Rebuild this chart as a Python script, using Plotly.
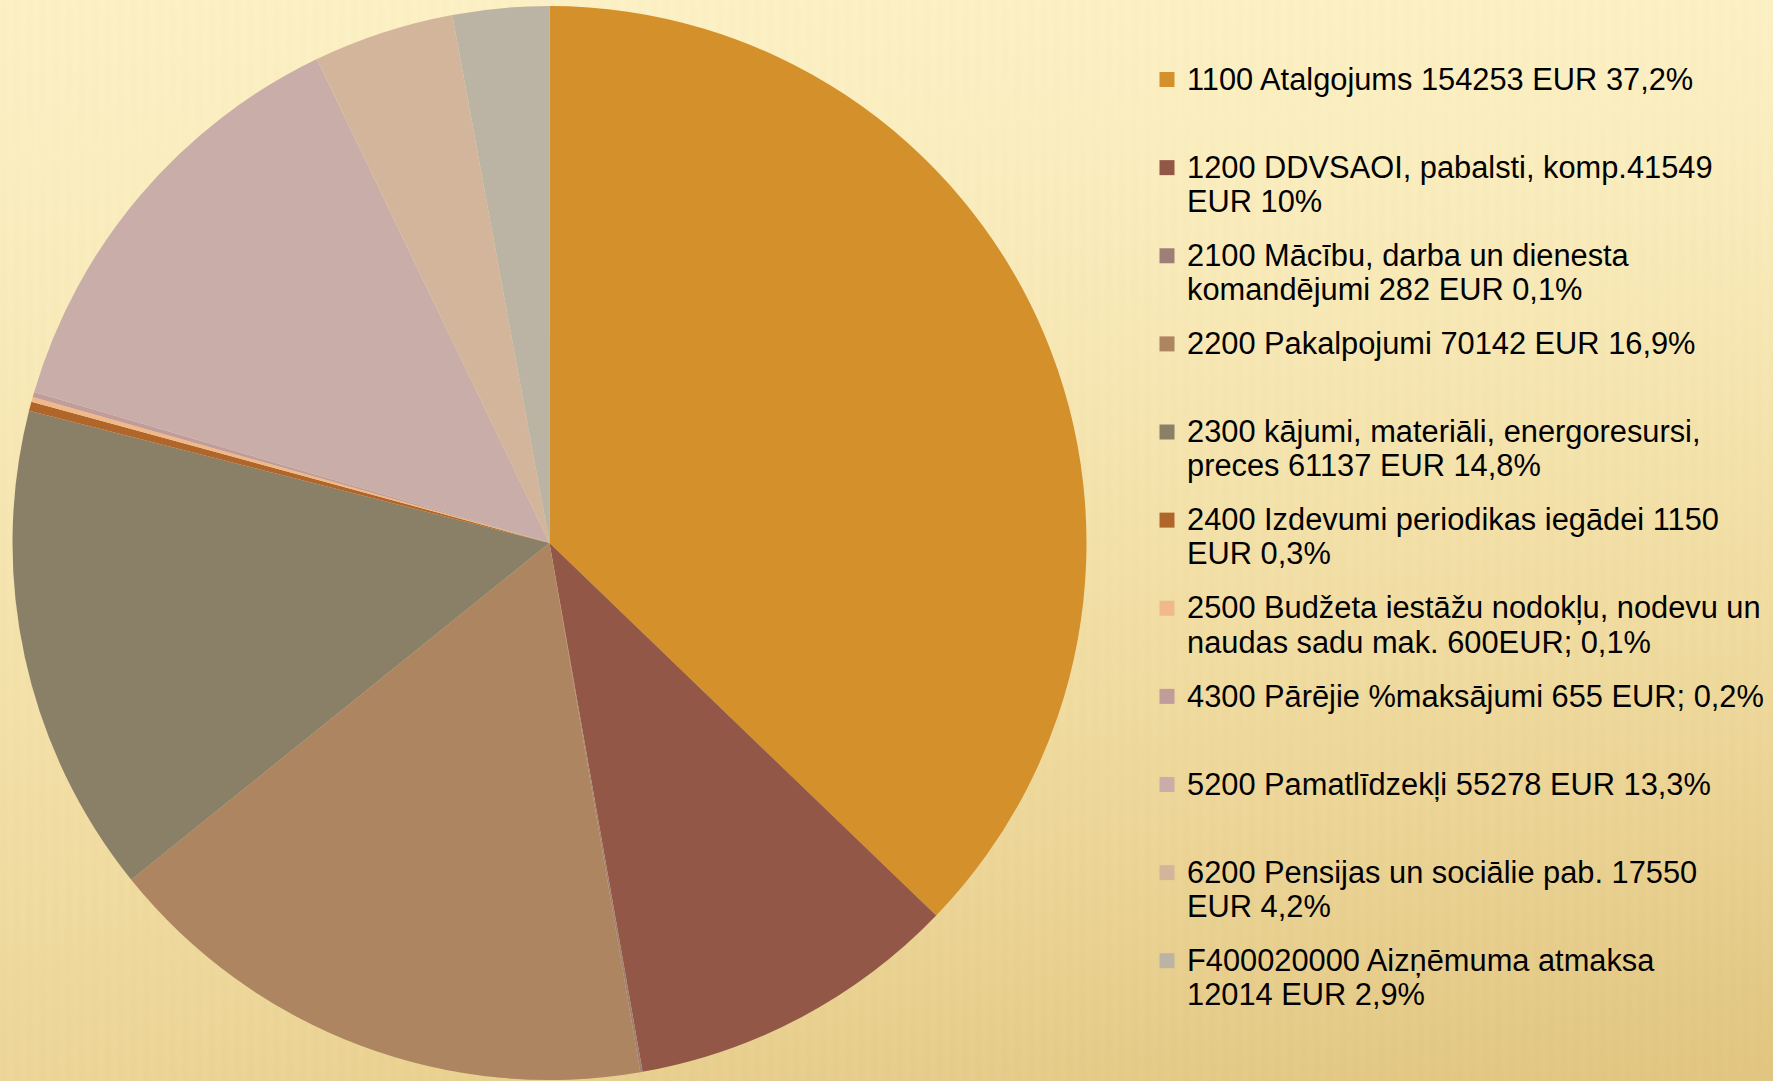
"""Budget pie chart with legend, cream/gold striped backdrop."""
import numpy as np
import plotly.graph_objects as go

W, H = 1773, 1081

codes = ["1100", "1200", "2100", "2200", "2300", "2400", "2500", "4300", "5200", "6200", "F400020000"]
values = [154253, 41549, 282, 70142, 61137, 1150, 600, 655, 55278, 17550, 12014]
label_first = [
    "1100 Atalgojums 154253 EUR 37,2%",
    "1200 DDVSAOI, pabalsti, komp.41549",
    "2100 Mācību, darba un dienesta",
    "2200 Pakalpojumi 70142 EUR 16,9%",
    "2300 kājumi, materiāli, energoresursi,",
    "2400 Izdevumi periodikas iegādei 1150",
    "2500 Budžeta iestāžu nodokļu, nodevu un",
    "4300 Pārējie %maksājumi 655 EUR; 0,2%",
    "5200 Pamatlīdzekļi 55278 EUR 13,3%",
    "6200 Pensijas un sociālie pab. 17550",
    "F400020000 Aizņēmuma atmaksa",
]
label_second = [
    "",
    "EUR 10%",
    "komandējumi 282 EUR 0,1%",
    "",
    "preces 61137 EUR 14,8%",
    "EUR 0,3%",
    "naudas sadu mak. 600EUR; 0,1%",
    "",
    "",
    "EUR 4,2%",
    "12014 EUR 2,9%",
]
colors = ["#D4902A", "#925746", "#A07E78", "#AD8561", "#8A8068", "#B0662A",
          "#F1B98A", "#C09C9B", "#C9ADA9", "#D3B59C", "#BBB4A4"]

TXT = 30.8
span = "<span style='font-size:%.1fpx'>%s</span>"
labels = [span % (TXT, a) + "<br>" + span % (TXT, b if b else "&nbsp;")
          for a, b in zip(label_first, label_second)]

# backdrop: vertical gradient cream -> gold with soft vertical stripes
bx = np.arange(0, W + 3, 3.0)
by = np.arange(0, H + 20, 20.0)
X, Y = np.meshgrid(bx, by)
g = 0.04 + (Y / H) ** 1.2 * (0.6 + 0.35 * X / W)
stripes = 0.05 * (0.5 + 0.5 * np.sin(2 * np.pi * X / 13.0))
Z = g + stripes

fig = go.Figure()
fig.add_trace(go.Heatmap(
    x=bx, y=by, z=Z, zmin=0, zmax=1, zsmooth="best", showscale=False,
    colorscale=[[0, "#FDF3C9"], [0.5, "#F1DDA3"], [1, "#E1C580"]],
    hoverinfo="skip",
))
fig.add_trace(go.Pie(
    labels=label_first, values=values, sort=False, direction="clockwise", rotation=0,
    marker=dict(colors=colors, line=dict(width=0)),
    textinfo="none", hoverinfo="label+value+percent", showlegend=False,
    domain=dict(x=[12.5 / W, 1086.5 / W], y=[1 / H, 1075 / H]),
))
# legend entries, one group per category so the spacing between them can be set
for code, lab, col in zip(codes, labels, colors):
    fig.add_trace(go.Scatter(
        x=[None], y=[None], mode="markers", name=lab, legendgroup=code,
        marker=dict(symbol="square", size=15, color=col), hoverinfo="skip",
    ))
fig.update_layout(
    width=W, height=H, margin=dict(l=0, r=0, t=0, b=0),
    paper_bgcolor="#FCF0C5", plot_bgcolor="rgba(0,0,0,0)",
    xaxis=dict(visible=False, range=[0, W], domain=[0, 1]),
    yaxis=dict(visible=False, range=[H, 0], domain=[0, 1]),
    showlegend=True,
    legend=dict(
        x=1147 / W, xanchor="left", y=1 - 56 / H, yanchor="top",
        valign="top", bgcolor="rgba(0,0,0,0)", itemwidth=30,
        tracegroupgap=17, traceorder="grouped",
        font=dict(family="Liberation Sans, Arial, sans-serif", size=26.2, color="#000000"),
    ),
)
fig.write_html("out.html", config={"displayModeBar": False},
               post_script="document.body.style.margin='0px';document.body.style.overflow='hidden';")
